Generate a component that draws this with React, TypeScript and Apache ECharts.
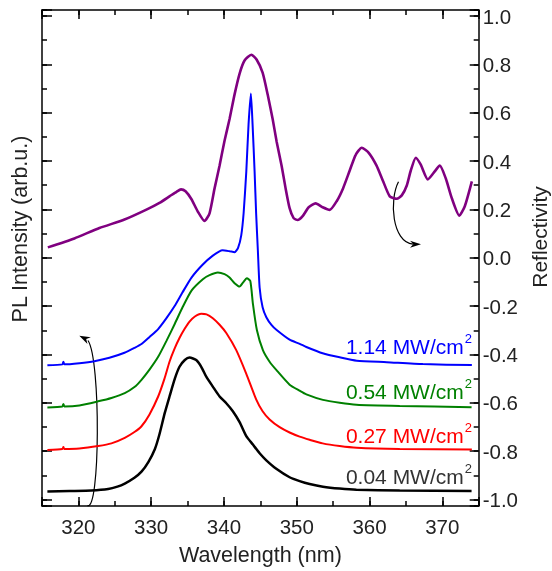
import React, { useEffect, useRef } from 'react';
import * as echarts from 'echarts';

// Reflectivity (right axis)
const reflWl = [315.80, 319.45, 322.89, 326.33, 329.35, 331.14, 332.52, 333.48, 334.10, 334.72, 335.54, 336.37, 337.33, 338.02, 338.71, 339.40, 340.08, 340.77, 341.46, 342.15, 342.83, 343.76, 344.48, 345.31, 346.00, 346.69, 347.24, 347.92, 348.47, 349.02, 349.57, 350.12, 350.81, 351.64, 352.60, 353.56, 354.53, 355.49, 356.36, 357.28, 358.10, 358.93, 359.89, 360.95, 361.82, 362.78, 363.74, 364.43, 365.12, 365.67, 366.36, 367.04, 368.01, 368.83, 369.66, 370.48, 371.31, 372.34, 373.09, 374.06];
const reflVal = [0.043, 0.080, 0.123, 0.158, 0.199, 0.227, 0.254, 0.273, 0.283, 0.275, 0.242, 0.193, 0.152, 0.184, 0.287, 0.382, 0.484, 0.574, 0.676, 0.762, 0.816, 0.840, 0.820, 0.766, 0.676, 0.574, 0.480, 0.381, 0.287, 0.205, 0.164, 0.156, 0.172, 0.209, 0.225, 0.209, 0.198, 0.234, 0.287, 0.361, 0.426, 0.455, 0.434, 0.382, 0.320, 0.254, 0.244, 0.258, 0.299, 0.361, 0.414, 0.385, 0.324, 0.352, 0.381, 0.328, 0.246, 0.174, 0.213, 0.316];

// PL spectra (left axis, arb. u., vertically offset)
const pl114Wl = [315.74, 317.80, 317.94, 318.07, 320.14, 322.20, 324.26, 326.33, 327.70, 328.67, 329.77, 330.96, 332.10, 333.20, 334.31, 335.54, 337.06, 338.43, 339.81, 340.77, 341.46, 341.94, 342.38, 342.70, 343.07, 343.38, 343.70, 343.93, 344.21, 344.42, 344.66, 344.90, 345.31, 345.82, 346.55, 347.24, 349.02, 350.40, 351.32, 353.56, 355.90, 358.24, 362.37, 367.32, 374.06];
const pl114Val = [0.555, 0.559, 0.570, 0.559, 0.564, 0.572, 0.586, 0.607, 0.627, 0.643, 0.672, 0.705, 0.750, 0.799, 0.857, 0.918, 0.971, 1.008, 1.031, 1.027, 1.023, 1.041, 1.094, 1.184, 1.357, 1.553, 1.680, 1.553, 1.357, 1.184, 1.029, 0.877, 0.795, 0.754, 0.721, 0.701, 0.661, 0.644, 0.631, 0.605, 0.588, 0.574, 0.568, 0.560, 0.556];

const pl054Wl = [315.74, 317.80, 317.94, 318.07, 320.14, 322.71, 324.54, 326.37, 327.70, 328.67, 329.77, 330.96, 332.10, 333.25, 334.31, 335.54, 337.10, 338.02, 339.16, 340.08, 340.77, 341.46, 342.15, 342.63, 343.15, 343.62, 343.98, 344.53, 345.35, 346.27, 347.19, 349.02, 350.40, 351.32, 353.60, 355.90, 358.20, 364.15, 374.02];
const pl054Val = [0.381, 0.385, 0.395, 0.385, 0.389, 0.406, 0.420, 0.440, 0.465, 0.495, 0.537, 0.590, 0.656, 0.727, 0.795, 0.864, 0.911, 0.928, 0.939, 0.932, 0.918, 0.895, 0.881, 0.898, 0.915, 0.904, 0.809, 0.700, 0.618, 0.570, 0.536, 0.475, 0.450, 0.435, 0.412, 0.400, 0.392, 0.387, 0.382];

const pl027Wl = [315.74, 317.80, 317.94, 318.07, 320.14, 322.71, 324.54, 326.37, 327.70, 328.67, 329.77, 330.96, 331.83, 332.52, 333.20, 333.89, 334.58, 335.27, 335.96, 336.88, 337.61, 338.47, 339.40, 340.32, 341.69, 343.07, 344.44, 345.31, 346.27, 347.65, 349.02, 350.40, 351.77, 353.56, 355.90, 358.24, 364.15, 374.06];
const pl027Val = [0.205, 0.209, 0.217, 0.209, 0.211, 0.221, 0.232, 0.255, 0.279, 0.303, 0.352, 0.426, 0.500, 0.570, 0.623, 0.668, 0.705, 0.736, 0.756, 0.768, 0.766, 0.750, 0.723, 0.689, 0.618, 0.520, 0.413, 0.365, 0.331, 0.299, 0.277, 0.260, 0.247, 0.232, 0.221, 0.214, 0.209, 0.207];

const pl004Wl = [315.74, 318.76, 321.79, 324.09, 325.36, 326.37, 327.70, 328.67, 329.63, 330.50, 331.14, 331.87, 332.52, 333.25, 333.89, 334.62, 335.27, 336.19, 336.88, 337.57, 338.47, 339.40, 340.32, 341.22, 342.15, 343.07, 343.98, 344.90, 345.82, 347.19, 349.02, 350.40, 351.77, 353.60, 355.90, 358.20, 364.15, 374.02];
const pl004Val = [0.033, 0.035, 0.037, 0.043, 0.053, 0.066, 0.090, 0.115, 0.156, 0.208, 0.270, 0.358, 0.426, 0.500, 0.549, 0.577, 0.587, 0.577, 0.549, 0.508, 0.467, 0.426, 0.398, 0.365, 0.320, 0.262, 0.227, 0.191, 0.162, 0.127, 0.092, 0.076, 0.064, 0.053, 0.045, 0.040, 0.037, 0.035];

const powerLabels = ['1.14 MW/cm', '0.54 MW/cm', '0.27 MW/cm', '0.04 MW/cm'];
const powerColors = ['#0000ff', '#008000', '#ff0000', '#333333'];

const FONT = 'Liberation Sans, Arial, Helvetica, sans-serif';

function zip(xs: number[], ys: number[]) {
  return xs.map((x, i) => [x, ys[i]]);
}

function arrowHead(tx: number, ty: number, fx: number, fy: number, L: number, W: number) {
  const dx = tx - fx, dy = ty - fy;
  const n = Math.hypot(dx, dy);
  const ux = dx / n, uy = dy / n;
  const px = -uy, py = ux;
  return [
    [tx, ty],
    [tx - L * ux + W * px, ty - L * uy + W * py],
    [tx - 0.7 * L * ux, ty - 0.7 * L * uy],
    [tx - L * ux - W * px, ty - L * uy - W * py],
  ];
}

export default function App() {
  const ref = useRef<HTMLDivElement>(null);
  useEffect(() => {
    if (!ref.current) return;
    const chart = echarts.init(ref.current, null, { renderer: 'svg' });
    const is = (v: number, step: number) => Math.abs(v / step - Math.round(v / step)) < 1e-6;
    const tickStyle = { color: '#000', width: 1.5 };
    const lineStyle = { color: '#000', width: 1.5 };
    const labelStyle = { color: '#222', fontSize: 20.5, fontFamily: FONT };

    const xCommon = { type: 'value', min: 315, max: 375, splitLine: { show: false } };
    const rCommon = { type: 'value', min: -1.027, max: 1.025, splitLine: { show: false } };
    const lCommon = { type: 'value', min: -0.027, max: 2.025, splitLine: { show: false } };

    const labelX = [472, 472, 472, 472];
    const labelY = [346, 391.7, 435, 476.7];

    const graphics: any[] = [];
    powerLabels.forEach((t, i) => {
      graphics.push({
        type: 'text',
        x: labelX[i],
        y: labelY[i],
        style: {
          text: '{a|' + t + '}{s|2}',
          align: 'right',
          verticalAlign: 'middle',
          rich: {
            a: { fontSize: 21, fontFamily: FONT, fill: powerColors[i], color: powerColors[i] },
            s: { fontSize: 13, fontFamily: FONT, fill: powerColors[i], color: powerColors[i], padding: [0, 0, 16, 1] },
          },
        },
      });
    });
    graphics.push({
      type: 'text',
      x: 20,
      y: 229,
      rotation: Math.PI / 2,
      style: { text: 'PL Intensity (arb.u.)', fontSize: 21.5, fontFamily: FONT, fill: '#222', align: 'center', verticalAlign: 'middle' },
    });
    graphics.push({
      type: 'text',
      x: 539,
      y: 237,
      rotation: Math.PI / 2,
      style: { text: 'Reflectivity', fontSize: 21, fontFamily: FONT, fill: '#222', align: 'center', verticalAlign: 'middle' },
    });
    // curved arrows
    graphics.push({
      type: 'bezierCurve',
      shape: { x1: 87.5, y1: 505.5, cpx1: 100, cpy1: 512, cpx2: 101, cpy2: 360, x2: 88, y2: 340.5 },
      style: { stroke: '#000', lineWidth: 1.2, fill: null },
    });
    graphics.push({
      type: 'polygon',
      shape: { points: arrowHead(79.3, 335.7, 90, 341, 11, 3.8) },
      style: { fill: '#000' },
    });
    graphics.push({
      type: 'bezierCurve',
      shape: { x1: 398.5, y1: 181.7, cpx1: 389, cpy1: 200, cpx2: 392, cpy2: 242, x2: 413, y2: 244.2 },
      style: { stroke: '#000', lineWidth: 1.2, fill: null },
    });
    graphics.push({
      type: 'polygon',
      shape: { points: arrowHead(421, 244.3, 409, 244.3, 11, 3.5) },
      style: { fill: '#000' },
    });

    const mk = (name: string, xs: number[], ys: number[], color: string, y: number, w: number) => ({
      name,
      type: 'line',
      xAxisIndex: 0,
      yAxisIndex: y,
      data: zip(xs, ys),
      showSymbol: false,
      smooth: 0.2,
      lineStyle: { color, width: w },
      itemStyle: { color },
      z: 3,
    });

    const noZero = { onZero: false };

    chart.setOption({
      animation: false,
      grid: { left: 42, right: 73.3, top: 10, bottom: 60.3 },
      xAxis: [
        {
          ...xCommon,
          position: 'bottom',
          splitNumber: 6,
          name: 'Wavelength (nm)',
          nameLocation: 'middle',
          nameGap: 38,
          nameTextStyle: { color: '#222', fontSize: 21.5, fontFamily: FONT },
          axisLine: { show: true, ...noZero, lineStyle },
          axisTick: { show: true, inside: true, length: 9, lineStyle: tickStyle },
          axisLabel: { ...labelStyle, margin: 10, formatter: (v: number) => (is(v, 10) ? String(v) : '') },
        },
        {
          ...xCommon,
          position: 'bottom',
          interval: 5,
          axisLine: { show: false, ...noZero },
          axisTick: { show: true, inside: true, length: 5, lineStyle: tickStyle },
          axisLabel: { show: false },
        },
        {
          ...xCommon,
          position: 'top',
          splitNumber: 6,
          axisLine: { show: true, ...noZero, lineStyle },
          axisTick: { show: true, inside: true, length: 9, lineStyle: tickStyle },
          axisLabel: { show: false },
        },
        {
          ...xCommon,
          position: 'top',
          interval: 5,
          axisLine: { show: false, ...noZero },
          axisTick: { show: true, inside: true, length: 5, lineStyle: tickStyle },
          axisLabel: { show: false },
        },
      ],
      yAxis: [
        {
          ...rCommon,
          position: 'right',
          splitNumber: 10,
          axisLine: { show: true, ...noZero, lineStyle },
          axisTick: { show: true, inside: true, length: 9, lineStyle: tickStyle },
          axisLabel: { ...labelStyle, margin: 4, formatter: (v: number) => (is(v, 0.2) ? v.toFixed(1) : '') },
        },
        {
          ...rCommon,
          position: 'right',
          splitNumber: 20,
          axisLine: { show: false, ...noZero },
          axisTick: { show: true, inside: true, length: 5, lineStyle: tickStyle },
          axisLabel: { show: false },
        },
        {
          ...lCommon,
          position: 'left',
          splitNumber: 10,
          axisLine: { show: true, ...noZero, lineStyle },
          axisTick: { show: true, inside: true, length: 10, lineStyle: tickStyle },
          axisLabel: { show: false },
        },
        {
          ...lCommon,
          position: 'left',
          splitNumber: 20,
          axisLine: { show: false, ...noZero },
          axisTick: { show: true, inside: true, length: 5, lineStyle: tickStyle },
          axisLabel: { show: false },
        },
      ],
      series: [
        mk('Reflectivity', reflWl, reflVal, '#800080', 0, 2.6),
        mk(powerLabels[0] + '2', pl114Wl, pl114Val, '#0000ff', 2, 2),
        mk(powerLabels[1] + '2', pl054Wl, pl054Val, '#008000', 2, 2),
        mk(powerLabels[2] + '2', pl027Wl, pl027Val, '#ff0000', 2, 2),
        mk(powerLabels[3] + '2', pl004Wl, pl004Val, '#000000', 2, 2.5),
      ],
      graphic: graphics,
    });
    return () => chart.dispose();
  }, []);
  return <div ref={ref} style={{ position: 'fixed', left: 0, top: 0, width: 552, height: 571 }} />;
}
